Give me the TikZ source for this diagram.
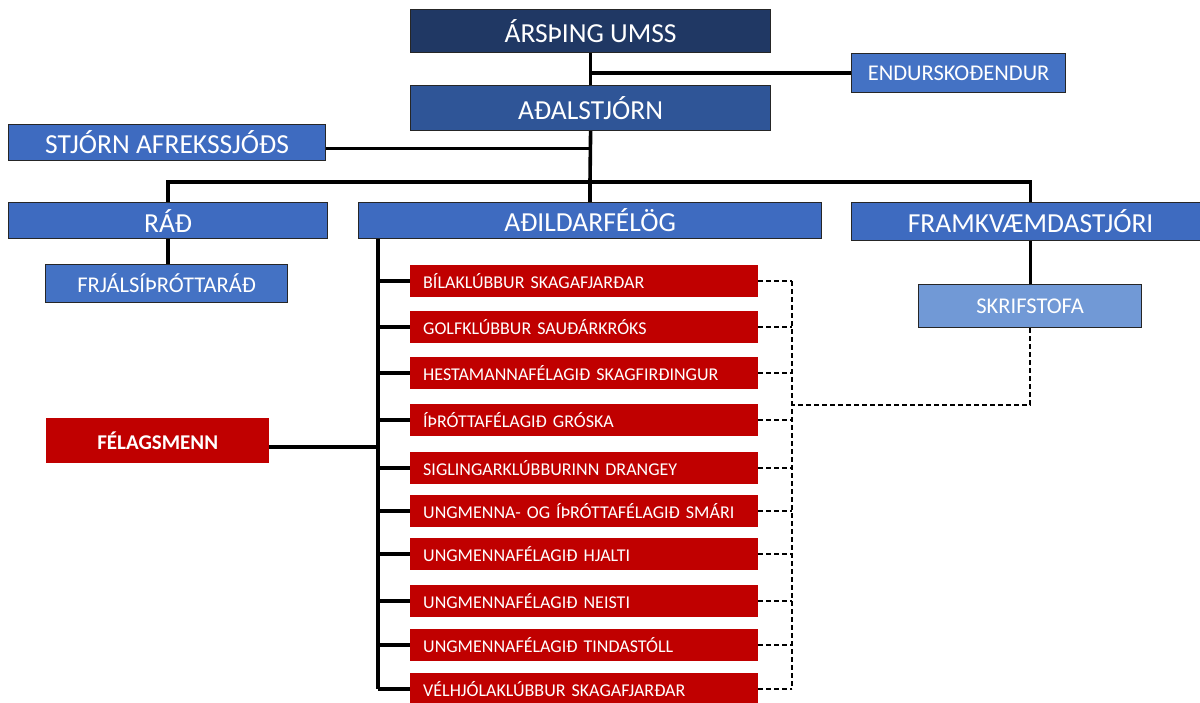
\documentclass[tikz,border=0pt]{standalone}
\usepackage{fontspec}
\setmainfont{Carlito}
\definecolor{navy}{HTML}{203864}
\definecolor{darkblue}{HTML}{2F5597}
\definecolor{midblue}{HTML}{3E6BC0}
\definecolor{paleblue}{HTML}{4472C4}
\definecolor{lightblue}{HTML}{7199D6}
\definecolor{umssred}{HTML}{C00000}
\tikzset{
  box/.style={draw=black!85, line width=1.2pt, text=white, inner sep=0pt, anchor=north west},
  bigbox/.style={box, font=\fontsize{27.5}{30}\selectfont},
  smallbox/.style={box, font=\fontsize{22.5}{25}\selectfont},
  clubbox/.style={fill=umssred, text=white, anchor=north west, inner ysep=0pt, inner xsep=13pt,
    text width=322pt, minimum height=32pt, align=left, font=\fontsize{18}{20}\selectfont},
  link/.style={line width=3.6pt},
  dottedlink/.style={line width=1.8pt, dash pattern=on 5pt off 3pt}
}
\begin{document}
\begin{tikzpicture}[x=1pt, y=-1pt]
\useasboundingbox (0,0) rectangle (1200,703);
% top level
\node[bigbox, fill=navy, minimum width=360pt, minimum height=43pt] (arsthing) at (410,9) {ÁRSÞING UMSS};
\node[smallbox, fill=paleblue, minimum width=214pt, minimum height=39pt] (endur) at (851,53) {ENDURSKOÐENDUR};
\node[bigbox, fill=darkblue, minimum width=360pt, minimum height=45pt] (adal) at (410,85) {AÐALSTJÓRN};
\node[bigbox, fill=midblue, minimum width=317pt, minimum height=36pt] (stjorn) at (8,124) {STJÓRN AFREKSSJÓÐS};
% second level
\node[bigbox, fill=midblue, minimum width=319pt, minimum height=36pt] (rad) at (8,202) {RÁÐ};
\node[bigbox, fill=midblue, minimum width=463pt, minimum height=36pt] (adild) at (358,202) {AÐILDARFÉLÖG};
\node[bigbox, fill=midblue, minimum width=358pt, minimum height=38pt] (framk) at (851,202) {FRAMKVÆMDASTJÓRI};
\node[smallbox, fill=paleblue, minimum width=242pt, minimum height=38pt] (frjals) at (45,264) {FRJÁLSÍÞRÓTTARÁÐ};
\node[smallbox, fill=lightblue, minimum width=223pt, minimum height=43pt] (skrif) at (918,284) {SKRIFSTOFA};
\node[fill=umssred, text=white, anchor=north west, inner sep=0pt, minimum width=223pt, minimum height=45pt,
  font=\bfseries\fontsize{21}{24}\selectfont] (felag) at (46,418) {FÉLAGSMENN};
% member clubs
\foreach \y/\club [count=\i] in {265/BÍLAKLÚBBUR SKAGAFJARÐAR, 311/GOLFKLÚBBUR SAUÐÁRKRÓKS,
    357/HESTAMANNAFÉLAGIÐ SKAGFIRÐINGUR, 404/ÍÞRÓTTAFÉLAGIÐ GRÓSKA,
    452/SIGLINGARKLÚBBURINN DRANGEY, 495/UNGMENNA- OG ÍÞRÓTTAFÉLAGIÐ SMÁRI,
    538/UNGMENNAFÉLAGIÐ HJALTI, 585/UNGMENNAFÉLAGIÐ NEISTI,
    629/UNGMENNAFÉLAGIÐ TINDASTÓLL, 673/VÉLHJÓLAKLÚBBUR SKAGAFJARÐAR}
  \node[clubbox] (c\i) at (410,\y) {\club};
\coordinate (bus) at (590,182);
\coordinate (lbus) at (378,0);
\coordinate (rbus) at (792,0);
\coordinate (join) at (792,405);
% solid connectors
\draw[link] (arsthing.south) -- (adal.north);
\draw[link] (arsthing.south |- endur.west) -- (endur.west);
\draw[link] ([yshift=-6pt]stjorn.east) -- ([yshift=-6pt]stjorn.east -| adal.south);
\draw[link] (adal.south) -- (bus) -- (bus |- adild.north);
\draw[link] (rad.north) |- (bus) -| (framk.north);
\draw[link] (rad.south) -- (rad.south |- frjals.north);
\draw[link] (framk.south) -- (framk.south |- skrif.north);
\draw[link] (adild.south -| lbus) -- (c10.west -| lbus);
\draw[link] ([yshift=-6pt]felag.east) -- ([yshift=-6pt]felag.east -| lbus);
\foreach \i in {1,...,10}
  \draw[link] (c\i.west -| lbus) -- (c\i.west);
% dashed connectors
\foreach \i in {1,...,10}
  \draw[dottedlink] (c\i.east) -- (c\i.east -| rbus);
\draw[dottedlink] (c1.east -| rbus) -- (c10.east -| rbus);
\draw[dottedlink] (skrif.south) |- (join);
\end{tikzpicture}
\end{document}
